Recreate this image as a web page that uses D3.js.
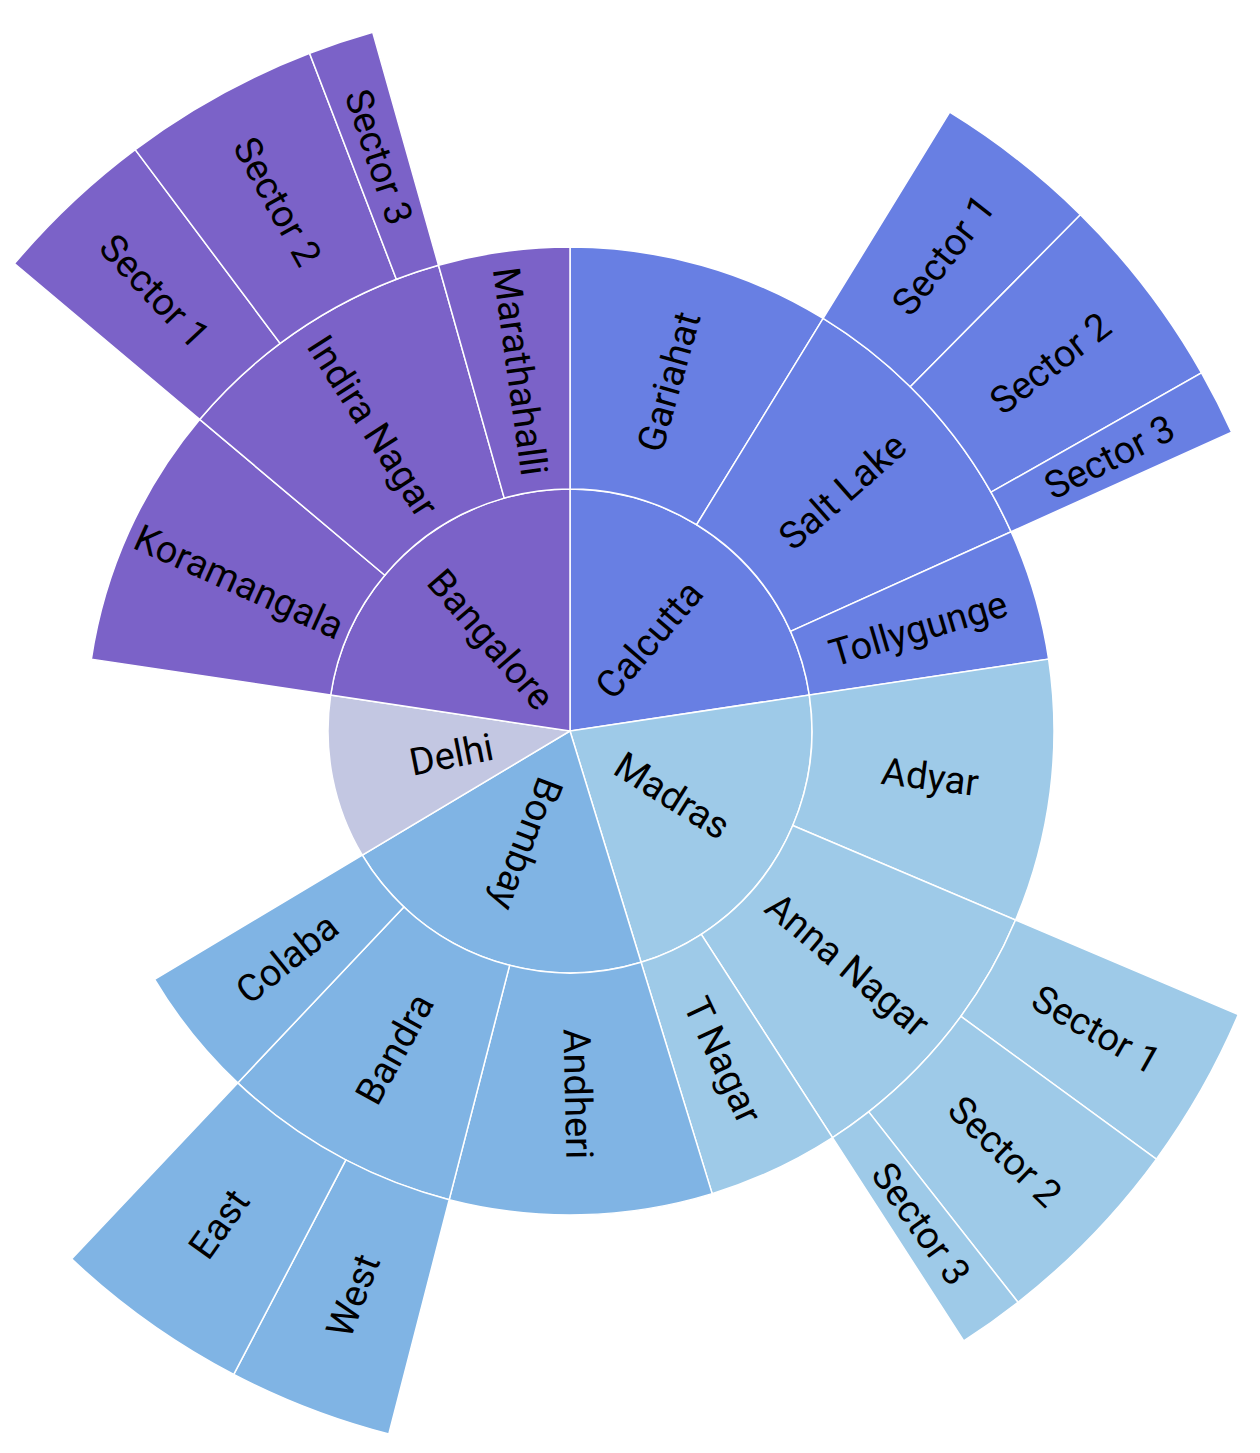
<!doctype html>
<html>
<head>
    <style>
        body { margin: 0; background: #fff; }
        .label {
            font-family: Roboto, "Noto Sans", sans-serif;
            font-size: 38px;
            fill: #000;
        }
    </style>
    <script src="https://d3js.org/d3.v7.min.js"></script>
</head>
<body>
    <svg width="1260" height="1453"></svg>
    <script>
        // Top level cities (clockwise from 12 o'clock) and their colours
        var cities = ["Calcutta", "Madras", "Bombay", "Delhi", "Bangalore"];
        var cityColors = ["#687fe3", "#9ecae8", "#80b4e4", "#c3c7e2", "#7b62c8"];

        // Leaf paths and their values
        var leafPaths = [
            "Calcutta/Gariahat",
            "Calcutta/Salt Lake/Sector 1",
            "Calcutta/Salt Lake/Sector 2",
            "Calcutta/Salt Lake/Sector 3",
            "Calcutta/Tollygunge",
            "Madras/Adyar",
            "Madras/Anna Nagar/Sector 1",
            "Madras/Anna Nagar/Sector 2",
            "Madras/Anna Nagar/Sector 3",
            "Madras/T Nagar",
            "Bombay/Andheri",
            "Bombay/Bandra/West",
            "Bombay/Bandra/East",
            "Bombay/Colaba",
            "Delhi",
            "Bangalore/Koramangala",
            "Bangalore/Indira Nagar/Sector 1",
            "Bangalore/Indira Nagar/Sector 2",
            "Bangalore/Indira Nagar/Sector 3",
            "Bangalore/Marathahalli"
        ];
        var leafValues = [12, 5, 6, 2, 6, 12, 5, 6, 2, 6, 12, 5, 6, 6, 15, 12, 5, 6, 2, 6];

        // build nested tree from the paths
        var tree = { name: "root", children: [] };
        leafPaths.forEach(function (p, i) {
            var parts = p.split("/");
            var node = tree;
            parts.forEach(function (part, j) {
                node.children = node.children || [];
                var child = node.children.find(function (c) { return c.name === part; });
                if (!child) {
                    child = { name: part };
                    node.children.push(child);
                }
                if (j === parts.length - 1) child.value = leafValues[i];
                node = child;
            });
        });

        var svg = d3.select("svg"),
            cx = 570,
            cy = 731,
            ringWidth = 242;

        var root = d3.hierarchy(tree).sum(function (d) { return d.value || 0; });
        d3.partition().size([2 * Math.PI, root.height + 1])(root);

        var radius = d3.scaleLinear()
            .domain([1, root.height + 1])
            .range([0, ringWidth * root.height]);

        var color = d3.scaleOrdinal().domain(cities).range(cityColors);

        var arc = d3.arc()
            .startAngle(function (d) { return d.x0; })
            .endAngle(function (d) { return d.x1; })
            .innerRadius(function (d) { return radius(d.y0); })
            .outerRadius(function (d) { return radius(d.y1); });

        var g = svg.append("g")
            .attr("transform", "translate(" + cx + "," + cy + ")");

        var nodes = root.descendants().filter(function (d) { return d.depth > 0; });

        g.selectAll("path")
            .data(nodes)
            .enter().append("path")
            .attr("d", arc)
            .attr("fill", function (d) { return color(d.ancestors().reverse()[1].data.name); })
            .attr("stroke", "#fff")
            .attr("stroke-width", 1.5);

        // radial labels; flipped when the segment starts on the left half
        g.selectAll("text")
            .data(nodes)
            .enter().append("text")
            .attr("class", "label")
            .attr("text-anchor", "middle")
            .attr("dy", "0.35em")
            .attr("transform", function (d) {
                var a = (d.x0 + d.x1) / 2,
                    r = (radius(d.y0) + radius(d.y1)) / 2,
                    x = Math.sin(a) * r,
                    y = -Math.cos(a) * r,
                    rot = a * 180 / Math.PI - 90;
                if (d.x0 >= Math.PI - 1e-6) rot += 180;
                return "translate(" + x + "," + y + ") rotate(" + rot + ")";
            })
            .text(function (d) { return d.data.name; });
    </script>
</body>
</html>
